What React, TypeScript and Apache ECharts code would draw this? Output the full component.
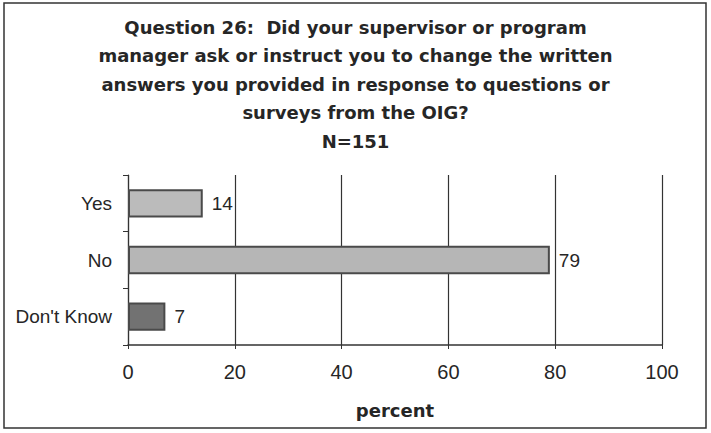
import React, { useEffect, useRef } from "react";
import * as echarts from "echarts";

const categories = ["Don't Know", "No", "Yes"];
const values = [7, 79, 14];
const barColors = ["#727272", "#b6b6b6", "#bbbbbb"];
const xTicks = [0, 20, 40, 60, 80, 100];
const titleLines = [
  "Question 26:  Did your supervisor or program",
  "manager ask or instruct you to change the written",
  "answers you provided in response to questions or",
  "surveys from the OIG?",
  "N=151",
];

const FONT = "Liberation Sans, Arial, sans-serif";

export default function App() {
  const ref = useRef<HTMLDivElement>(null);
  useEffect(() => {
    document.body.style.margin = "0";
    if (!ref.current) return;
    const chart = echarts.init(ref.current, null, { renderer: "svg" });
    chart.setOption({
      animation: false,
      backgroundColor: "#ffffff",
      title: {
        text: titleLines.join("\n"),
        left: "center",
        top: 8,
        textStyle: {
          fontFamily: "DejaVu Sans, sans-serif",
          fontWeight: "bold",
          fontSize: 18,
          lineHeight: 28.5,
          color: "#262626",
        },
      },
      graphic: [
        {
          type: "rect",
          shape: { x: 4, y: 3, width: 702, height: 425 },
          style: { fill: "none", stroke: "#333", lineWidth: 1.5 },
          silent: true,
        },
      ],
      grid: { left: 128, right: 49, top: 175, bottom: 88 },
      xAxis: {
        type: "value",
        min: xTicks[0],
        max: xTicks[xTicks.length - 1],
        interval: 20,
        name: "percent",
        nameLocation: "middle",
        nameGap: 56,
        nameTextStyle: {
          fontFamily: "DejaVu Sans, sans-serif",
          fontWeight: "bold",
          fontSize: 18,
          color: "#262626",
        },
        axisLine: { show: true, lineStyle: { color: "#333", width: 1.5 } },
        axisTick: { show: true, length: 4, lineStyle: { color: "#333" } },
        axisLabel: {
          fontFamily: FONT,
          fontSize: 20,
          color: "#262626",
          margin: 17,
        },
        splitLine: { show: true, lineStyle: { color: "#333", width: 1.2 } },
      },
      yAxis: {
        type: "category",
        data: categories,
        axisLine: { show: true, lineStyle: { color: "#333", width: 1.2 } },
        axisTick: { show: true, length: 5, lineStyle: { color: "#333" } },
        axisLabel: {
          fontFamily: FONT,
          fontSize: 19,
          color: "#262626",
          margin: 16,
        },
      },
      series: [
        {
          type: "bar",
          data: values.map((v, i) => ({
            value: v,
            itemStyle: { color: barColors[i] },
          })),
          barWidth: "50%",
          itemStyle: { borderColor: "#4a4a4a", borderWidth: 2 },
          label: {
            show: true,
            position: "right",
            distance: 9,
            fontFamily: FONT,
            fontSize: 19,
            color: "#262626",
          },
        },
      ],
    });
    return () => chart.dispose();
  }, []);
  return <div ref={ref} style={{ width: 711, height: 433 }} />;
}
